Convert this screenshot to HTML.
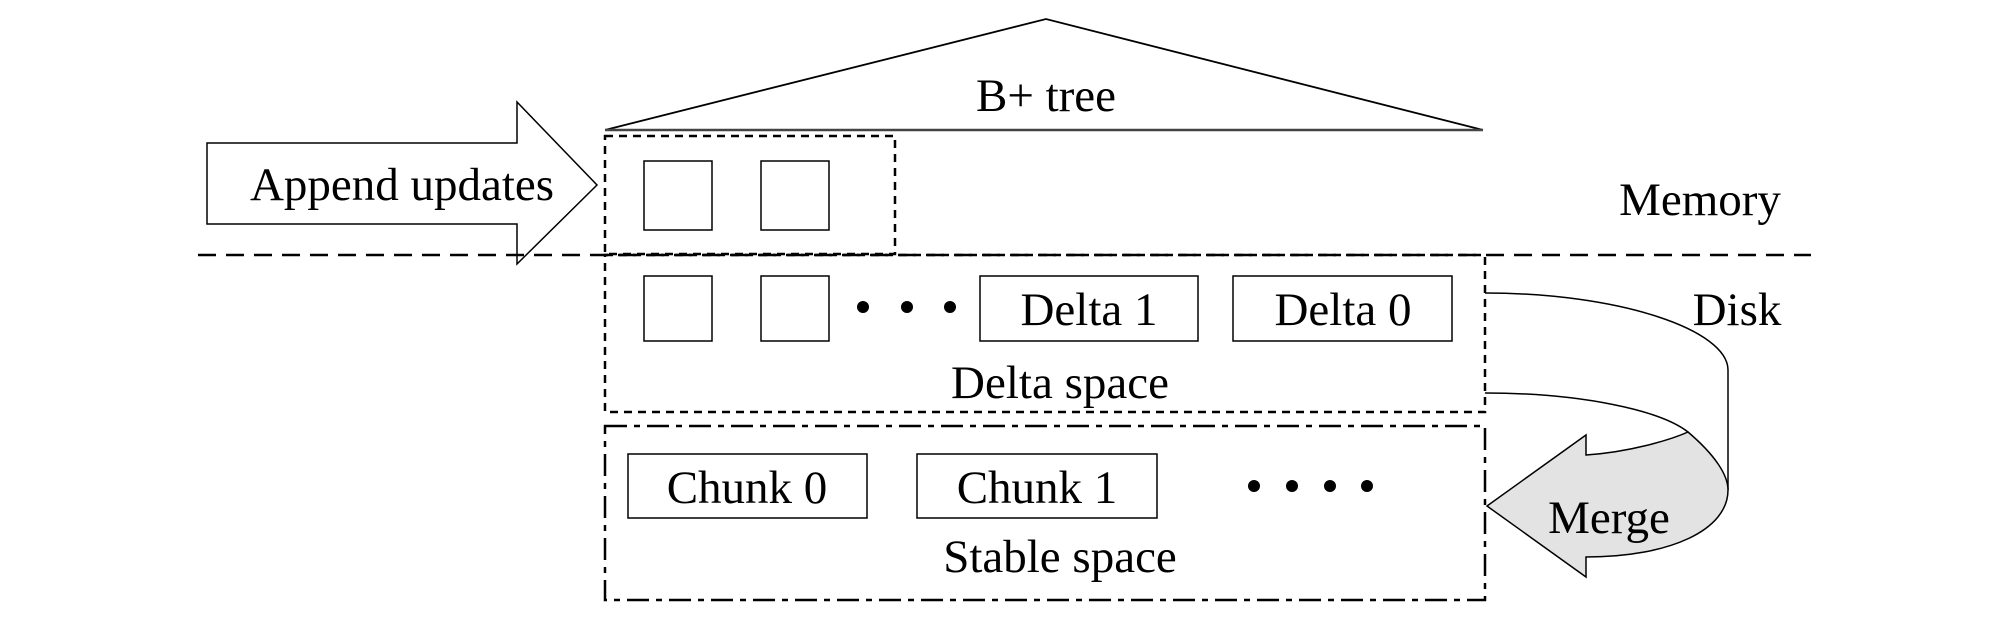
<!DOCTYPE html>
<html><head><style>
html,body{margin:0;padding:0;background:#fff;}
svg{display:block;}
text{font-family:"Liberation Serif",serif;fill:#000;}
</style></head><body>
<svg width="2000" height="633" viewBox="0 0 2000 633" xmlns="http://www.w3.org/2000/svg">
<g fill="none" stroke="#000">
<polyline points="605,130 1046,19 1483,130" stroke-width="1.8"/>
<line x1="605" y1="130" x2="1483" y2="130" stroke-width="2.5" stroke="#444"/>
<polygon points="207,143 517,143 517,102 597,185 517,264 517,224 207,224" stroke-width="1.5" fill="#fff"/>
<rect x="605" y="136" width="290" height="118" stroke-width="2.5" stroke-dasharray="8,6"/>
<rect x="644" y="161" width="68" height="69" stroke-width="1.5"/>
<rect x="761" y="161" width="68" height="69" stroke-width="1.5"/>
<line x1="198" y1="255" x2="1811" y2="255" stroke-width="2.5" stroke-dasharray="18,10"/>
<rect x="605" y="255" width="880" height="157" stroke-width="2.5" stroke-dasharray="8,6"/>
<rect x="644" y="276" width="68" height="65" stroke-width="1.5"/>
<rect x="761" y="276" width="68" height="65" stroke-width="1.5"/>
<rect x="980" y="276" width="218" height="65" stroke-width="1.5"/>
<rect x="1233" y="276" width="219" height="65" stroke-width="1.5"/>
<rect x="605" y="426" width="880" height="174" stroke-width="2.5" stroke-dasharray="22,7,6,7"/>
<rect x="628" y="454" width="239" height="64" stroke-width="1.5"/>
<rect x="917" y="454" width="240" height="64" stroke-width="1.5"/>
<path d="M1485,293 C1620,293 1728,330 1728,370 L1728,490" stroke-width="1.5"/>
<path d="M1485,393 C1580,393 1660,410 1688,432" stroke-width="1.5"/>
<path d="M1487,506 L1586,435 L1586,455 C1630,452 1670,440 1688,432 C1715,455 1728,475 1728,490 C1728,530 1670,557 1586,557 L1586,577 Z" fill="#e3e3e3" stroke-width="1.5"/>
</g>
<g fill="#000">
<circle cx="863" cy="307" r="6"/><circle cx="907" cy="307" r="6"/><circle cx="950" cy="307" r="6"/>
<circle cx="1254" cy="486" r="6"/><circle cx="1292" cy="486" r="6"/><circle cx="1330" cy="486" r="6"/><circle cx="1367" cy="486" r="6"/>
</g>
<g font-size="47" text-anchor="middle">
<text x="1046" y="111">B+ tree</text>
<text x="402" y="200">Append updates</text>
<text x="1700" y="215">Memory</text>
<text x="1737" y="325">Disk</text>
<text x="1089" y="325">Delta 1</text>
<text x="1343" y="325">Delta 0</text>
<text x="1060" y="398">Delta space</text>
<text x="747" y="503">Chunk 0</text>
<text x="1037" y="503">Chunk 1</text>
<text x="1060" y="572">Stable space</text>
<text x="1609" y="533">Merge</text>
</g>
</svg>
</body></html>
